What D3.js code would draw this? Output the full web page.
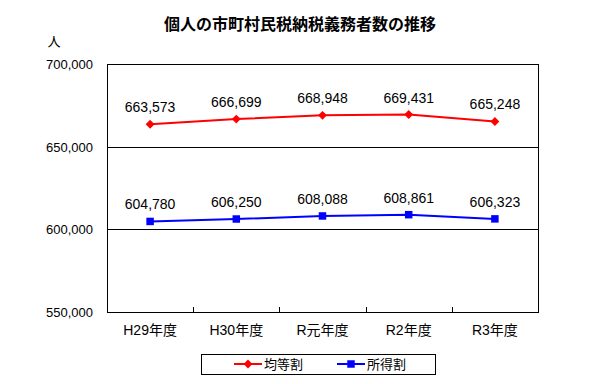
<!DOCTYPE html>
<html>
<head>
<meta charset="utf-8">
<script src="https://cdn.jsdelivr.net/npm/d3@7"></script>
<style>
  body { margin: 0; background: #fff; }
  text { font-family: "Liberation Sans", Arial, "Noto Sans CJK JP", sans-serif; }
</style>
</head>
<body>
<div id="chart"></div>
<script>
var years = ["H29年度", "H30年度", "R元年度", "R2年度", "R3年度"];
var kintou = [663573, 666699, 668948, 669431, 665248];
var shotoku = [604780, 606250, 608088, 608861, 606323];
var yTicks = [550000, 600000, 650000, 700000];
var seriesNames = ["均等割", "所得割"];
var seriesColors = ["#ff0000", "#0000ff"];

var svg = d3.select("#chart").append("svg")
    .attr("width", 614)
    .attr("height", 384);

var plotL = 107, plotR = 538, plotT = 64, plotB = 312;

var x = d3.scaleBand().domain(years).range([plotL, plotR]);
var y = d3.scaleLinear().domain([550000, 700000]).range([plotB, plotT]);
var fmt = d3.format(",");

// title
svg.append("text")
    .attr("x", 300).attr("y", 30)
    .attr("text-anchor", "middle")
    .style("font-size", "16px")
    .style("font-weight", "bold")
    .text("個人の市町村民税納税義務者数の推移");

svg.append("text")
    .attr("x", 54).attr("y", 46)
    .attr("text-anchor", "middle")
    .style("font-size", "13px")
    .text("人");

// grid lines
svg.selectAll(".grid").data(yTicks).enter()
    .append("line")
    .attr("x1", plotL).attr("x2", plotR)
    .attr("y1", function(d){ return Math.round(y(d)) + 0.5; })
    .attr("y2", function(d){ return Math.round(y(d)) + 0.5; })
    .attr("stroke", "#000").attr("stroke-width", 1);

// frame
svg.append("rect")
    .attr("x", plotL + 0.5).attr("y", plotT + 0.5)
    .attr("width", plotR - plotL).attr("height", plotB - plotT)
    .attr("fill", "none").attr("stroke", "#000");

// y axis labels
svg.selectAll(".ylab").data(yTicks).enter()
    .append("text")
    .attr("x", plotL - 14)
    .attr("y", function(d){ return y(d) + 5; })
    .attr("text-anchor", "end")
    .style("font-size", "13px")
    .text(function(d){ return fmt(d); });

// x axis labels
var xAxis = d3.axisBottom(x).tickSize(0).tickPadding(13);
var gx = svg.append("g").attr("transform", "translate(0," + plotB + ")").call(xAxis);
gx.select(".domain").remove();
gx.selectAll("text")
    .style("font-size", "14px")
    .style("font-family", "\"Liberation Sans\", Arial, \"Noto Sans CJK JP\", sans-serif")
    .attr("fill", "#000");

// category separators, pointing inward
svg.selectAll(".sep").data(years.slice(1)).enter()
    .append("line")
    .attr("x1", function(d){ return Math.round(x(d)) + 0.5; })
    .attr("x2", function(d){ return Math.round(x(d)) + 0.5; })
    .attr("y1", plotB).attr("y2", plotB - 5)
    .attr("stroke", "#000");

var cx = function(d, i){ return x(years[i]) + x.bandwidth() / 2; };

function drawSeries(vals, color, isDiamond) {
    var line = d3.line()
        .x(function(d, i){ return cx(d, i); })
        .y(function(d){ return y(d); });
    svg.append("path")
        .datum(vals)
        .attr("d", line)
        .attr("fill", "none")
        .attr("stroke", color)
        .attr("stroke-width", 2);
    var sym = d3.symbol().type(isDiamond ? d3.symbolDiamond2 : d3.symbolSquare).size(isDiamond ? 50 : 56);
    svg.append("g").selectAll("path").data(vals).enter()
        .append("path")
        .attr("d", sym())
        .attr("transform", function(d, i){ return "translate(" + cx(d, i) + "," + y(d) + ")"; })
        .attr("fill", color);
    svg.append("g").selectAll("text").data(vals).enter()
        .append("text")
        .attr("x", function(d, i){ return cx(d, i); })
        .attr("y", function(d){ return y(d) - 12; })
        .attr("text-anchor", "middle")
        .style("font-size", "14px")
        .text(function(d){ return fmt(d); });
}

drawSeries(kintou, seriesColors[0], true);
drawSeries(shotoku, seriesColors[1], false);

// legend
var lg = svg.append("g");
lg.append("rect")
    .attr("x", 201.5).attr("y", 354.5)
    .attr("width", 234).attr("height", 20)
    .attr("fill", "#fff").attr("stroke", "#000");

seriesNames.forEach(function(name, i){
    var lx = 248 + i * 103, ly = 364;
    lg.append("line")
        .attr("x1", lx - 14).attr("x2", lx + 14)
        .attr("y1", ly).attr("y2", ly)
        .attr("stroke", seriesColors[i]).attr("stroke-width", 2);
    lg.append("path")
        .attr("d", d3.symbol().type(i === 0 ? d3.symbolDiamond2 : d3.symbolSquare).size(i === 0 ? 50 : 56)())
        .attr("transform", "translate(" + lx + "," + ly + ")")
        .attr("fill", seriesColors[i]);
    lg.append("text")
        .attr("x", lx + 16).attr("y", ly + 5)
        .style("font-size", "13px")
        .text(name);
});
</script>
</body>
</html>
